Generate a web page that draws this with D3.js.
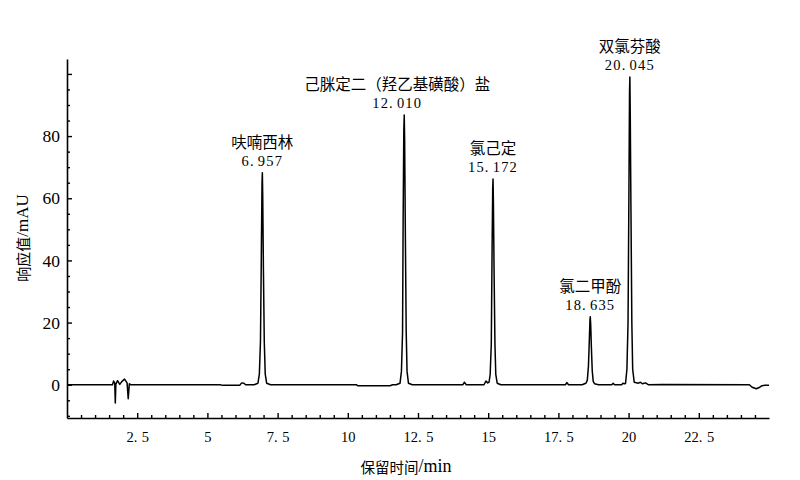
<!DOCTYPE html>
<html>
<head>
<meta charset="utf-8">
<script src="https://cdn.jsdelivr.net/npm/d3@7"></script>
<style>
  html, body { margin: 0; padding: 0; background: #fff; }
  svg { display: block; }
  text { fill: #000; }
</style>
</head>
<body>
<svg id="chart" width="800" height="480"></svg>
<script>
// ---- data ----
const traceTime = [
  0, 1.62, 1.66, 1.70, 1.72, 1.74, 1.80, 1.88, 1.95, 2.05, 2.14, 2.18, 2.22, 2.28,
  5.45, 5.55, 6.15, 6.22, 6.30, 6.36,
  6.66, 6.80, 6.85, 6.89, 6.92, 6.945, 6.957, 6.97, 6.995, 7.025, 7.06, 7.11, 7.25,
  10.30, 10.35, 11.50, 11.60,
  11.72, 11.86, 11.91, 11.95, 11.97, 11.995, 12.010, 12.025, 12.05, 12.08, 12.11, 12.16, 12.30,
  14.10, 14.15, 14.22, 14.85, 14.92, 14.98,
  15.03, 15.07, 15.11, 15.135, 15.16, 15.172, 15.185, 15.21, 15.24, 15.27, 15.32, 15.45,
  17.75, 17.80, 17.86,
  18.34, 18.48, 18.53, 18.57, 18.60, 18.625, 18.635, 18.65, 18.675, 18.705, 18.74, 18.79, 18.93,
  19.40, 19.45, 19.50, 19.75, 19.80, 19.85,
  19.89, 19.94, 19.98, 20.01, 20.033, 20.045, 20.058, 20.085, 20.115, 20.145, 20.20,
  20.35, 20.42, 20.50, 20.60, 20.70, 21.20,
  24.30, 24.40, 24.55, 24.65, 24.75, 24.85, 25.0
];
const traceSignal = [
  0, 0, 1.2, 0.5, -5.9, 0.2, 1.3, 0.1, 1.0, 1.8, 0.6, -4.5, 0.3, 0,
  0, -0.2, -0.2, 0.6, 0.5, 0,
  0, 0.5, 3.4, 14, 41, 65, 68.2, 61, 37, 14, 3.4, 0.5, 0,
  0, -0.3, -0.3, 0,
  0, 0.5, 4.3, 17, 52, 82, 86.8, 78, 48, 17, 4.3, 0.5, 0,
  0, 0.8, 0, 0, 1.2, 0.6,
  0.8, 3.3, 13, 40, 63, 66.2, 59, 36, 13, 3.3, 0.5, 0,
  0, 0.7, 0,
  0, 0.5, 1.5, 6, 14, 21, 21.9, 19.5, 12, 4.5, 1.1, 0.3, 0,
  0, 0.5, 0, 0, 0.5, 0.3,
  0.4, 5, 20, 60, 94, 99.0, 88, 55, 20, 5, 0.8,
  0.5, 0.8, 0.3, 0.6, 0, 0.1,
  0, -0.8, -1.3, -0.9, -0.3, -0.2, -0.2
];
const peakNames = ["呋喃西林", "己脒定二（羟乙基磺酸）盐", "氯己定", "氯二甲酚", "双氯芬酸"];
const peakTimes = [6.957, 12.010, 15.172, 18.635, 20.045];
const peakHeights = [68.2, 86.8, 66.2, 21.9, 99.0];
const peakTimeLabels = ["6.957", "12.010", "15.172", "18.635", "20.045"];

const xMajorTicks = [2.5, 5, 7.5, 10, 12.5, 15, 17.5, 20, 22.5];
const xTickLabels = ["2.5", "5", "7.5", "10", "12.5", "15", "17.5", "20", "22.5"];
const yMajorTicks = [0, 20, 40, 60, 80, 100];
const yTickLabels = ["0", "20", "40", "60", "80", ""];
const xTitleParts = ["保留时间", "/min"];
const yTitleParts = ["响应值", "/mAU"];

// ---- layout ----
const svg = d3.select("#chart");
const plotLeft = 67, plotRight = 769, plotTop = 59, plotBottom = 418;
const fontSerif = "'Liberation Serif', 'DejaVu Serif', serif";
const fontCJK = "'Noto Sans CJK SC', sans-serif";

const x = d3.scaleLinear().domain([0, 25]).range([plotLeft, plotRight]);
const y = d3.scaleLinear().domain([-10.7, 104.8]).range([plotBottom, plotTop]);

const xMinor = d3.range(0.5, 25, 0.5).filter(v => !xMajorTicks.includes(v));
const yMinor = d3.range(-10, 105, 5).filter(v => !yMajorTicks.includes(v));

// writes a decimal string with a wide decimal point (as in the reference typesetting)
function writeNumber(textSel, str, gap) {
  textSel.text(null);
  const k = str.indexOf(".");
  if (k < 0) { textSel.append("tspan").text(str); return; }
  textSel.append("tspan").text(str.slice(0, k + 1));
  textSel.append("tspan").attr("dx", gap).text(str.slice(k + 1));
}

// minor ticks
svg.append("g").attr("transform", `translate(0,${plotBottom})`)
  .call(d3.axisBottom(x).tickValues(xMinor).tickSize(-3).tickSizeOuter(0).tickFormat(""))
  .call(g => g.select(".domain").remove());
svg.append("g").attr("transform", `translate(${plotLeft},0)`)
  .call(d3.axisLeft(y).tickValues(yMinor).tickSize(-3).tickSizeOuter(0).tickFormat(""))
  .call(g => g.select(".domain").remove());

// major x axis
const gx = svg.append("g").attr("transform", `translate(0,${plotBottom})`)
  .call(d3.axisBottom(x).tickValues(xMajorTicks).tickSize(-5).tickSizeOuter(0)
    .tickFormat((d, i) => xTickLabels[i]));
gx.selectAll("text").attr("y", 19).attr("dy", "0.35em")
  .style("font-family", fontSerif).style("font-size", "14.5px")
  .each(function(d, i) { writeNumber(d3.select(this), xTickLabels[i], 4.5); });

// major y axis
const gy = svg.append("g").attr("transform", `translate(${plotLeft},0)`)
  .call(d3.axisLeft(y).tickValues(yMajorTicks).tickSize(-5).tickSizeOuter(0).tickPadding(7)
    .tickFormat((d, i) => yTickLabels[i]));
gy.selectAll("text").style("font-family", fontSerif).style("font-size", "17.5px");

svg.selectAll(".domain").attr("stroke", "#000").attr("stroke-width", 1.6);
svg.selectAll(".tick line").attr("stroke", "#000").attr("stroke-width", 1.4);
svg.selectAll(".tick text").attr("fill", "#000");

// axis titles
const xt = svg.append("text").attr("x", 406).attr("y", 466).attr("text-anchor", "middle")
  .attr("dominant-baseline", "central");
xt.append("tspan").style("font-family", fontCJK).style("font-size", "14.5px").text(xTitleParts[0]);
xt.append("tspan").style("font-family", fontSerif).style("font-size", "18px").text(xTitleParts[1]);

const yt = svg.append("text").attr("transform", "translate(22,238) rotate(-90)")
  .attr("text-anchor", "middle").attr("dominant-baseline", "central");
yt.append("tspan").style("font-family", fontCJK).style("font-size", "15px").text(yTitleParts[0]);
yt.append("tspan").style("font-family", fontSerif).style("font-size", "17px").text(yTitleParts[1]);

// trace
const pts = traceTime.map((t, i) => [t, traceSignal[i]]);
svg.append("path").datum(pts)
  .attr("fill", "none").attr("stroke", "#000").attr("stroke-width", 1.5)
  .attr("stroke-linejoin", "round")
  .attr("d", d3.line().x(d => x(d[0])).y(d => y(d[1])));

// peak labels
const labelShift = i => (peakNames[i].length > 6 ? -7 : 0);
peakNames.forEach((name, i) => {
  const px = x(peakTimes[i]) + labelShift(i);
  const py = y(peakHeights[i]);
  const num = svg.append("text").attr("x", px).attr("y", py - 12).attr("text-anchor", "middle")
    .attr("dominant-baseline", "central")
    .style("font-family", fontSerif).style("font-size", "14.5px")
    .style("letter-spacing", "1.2px");
  writeNumber(num, peakTimeLabels[i], 3);
  svg.append("text").attr("x", px).attr("y", py - 32).attr("text-anchor", "middle")
    .attr("dominant-baseline", "central")
    .style("font-family", fontCJK).style("font-size", "15.5px").text(name);
});
</script>
</body>
</html>
